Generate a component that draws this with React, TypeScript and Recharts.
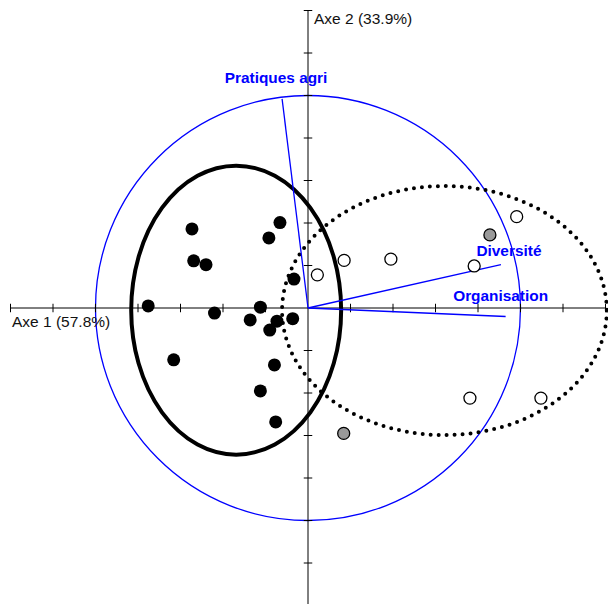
import React from 'react';
import {
  ScatterChart,
  Scatter,
  XAxis,
  YAxis,
  ReferenceLine,
  ReferenceArea,
} from 'recharts';

// Individus, groupe 1 (points noirs)
const groupe1 = [
  { x: -2.73, y: 1.86 },
  { x: -0.66, y: 2.01 },
  { x: -0.92, y: 1.65 },
  { x: -2.69, y: 1.11 },
  { x: -2.4, y: 1.02 },
  { x: -0.33, y: 0.68 },
  { x: -3.76, y: 0.05 },
  { x: -2.2, y: -0.12 },
  { x: -1.12, y: 0.02 },
  { x: -1.36, y: -0.28 },
  { x: -0.73, y: -0.31 },
  { x: -0.36, y: -0.25 },
  { x: -0.9, y: -0.52 },
  { x: -3.16, y: -1.22 },
  { x: -0.79, y: -1.34 },
  { x: -1.12, y: -1.95 },
  { x: -0.76, y: -2.68 },
];

// Individus, groupe 2 (cercles blancs)
const groupe2 = [
  { x: 0.22, y: 0.78 },
  { x: 0.85, y: 1.12 },
  { x: 1.95, y: 1.15 },
  { x: 3.91, y: 0.99 },
  { x: 4.91, y: 2.15 },
  { x: 3.81, y: -2.12 },
  { x: 5.48, y: -2.12 },
];

// Individus intermédiaires (gris)
const groupe3 = [
  { x: 4.28, y: 1.72 },
  { x: 0.84, y: -2.95 },
];

// Variables (cercle des corrélations)
const variables = [
  { name: 'Pratiques agri', x: -0.61, y: 4.92 },
  { name: 'Diversité', x: 4.54, y: 1.02 },
  { name: 'Organisation', x: 4.65, y: -0.2 },
];

// Ellipses de concentration
const ellipses = [
  { id: 'g1', cx: -1.69, cy: -0.05, rx: 2.47, ry: 3.4 },
  { id: 'g2', cx: 3.21, cy: -0.06, rx: 3.82, ry: 2.93 },
];

const rayonCercle = 5;

const graduations = [-7, -6, -5, -4, -3, -2, -1, 1, 2, 3, 4, 5, 6, 7];

const titresAxes = [
  { x: -7, y: 0, label: 'Axe 1 (57.8%)' },
  { x: 0, y: 7, label: 'Axe 2 (33.9%)' },
];

const FONT = '"Liberation Sans", Arial, Helvetica, sans-serif';
const BLUE = '#0000FF';

const labelShift: Record<string, [number, number]> = {
  'Pratiques agri': [-6, -16],
  'Diversité': [8, -9],
  'Organisation': [-5, -16],
};

const ellipseShape = (style: any) => (props: any) => {
  const { x, y, width, height } = props;
  return (
    <ellipse
      cx={x + width / 2}
      cy={y + height / 2}
      rx={Math.abs(width) / 2}
      ry={Math.abs(height) / 2}
      fill="none"
      {...style}
    />
  );
};

export default function App() {
  return (
    <div style={{ position: 'absolute', left: 0, top: 0, width: 608, height: 604, overflow: 'hidden', background: '#fff' }}>
      <ScatterChart width={616} height={616} margin={{ top: 10.5, right: 10.5, bottom: 10.5, left: 10.5 }}>
        <XAxis type="number" dataKey="x" domain={[-7, 7]} hide />
        <YAxis type="number" dataKey="y" domain={[-7, 7]} hide />

        {/* cercle des corrélations */}
        <ReferenceArea
          x1={-rayonCercle}
          x2={rayonCercle}
          y1={-rayonCercle}
          y2={rayonCercle}
          ifOverflow="visible"
          shape={ellipseShape({ stroke: BLUE, strokeWidth: 1.3 })}
        />

        {/* ellipses des groupes */}
        <ReferenceArea
          x1={ellipses[0].cx - ellipses[0].rx}
          x2={ellipses[0].cx + ellipses[0].rx}
          y1={ellipses[0].cy - ellipses[0].ry}
          y2={ellipses[0].cy + ellipses[0].ry}
          ifOverflow="visible"
          shape={ellipseShape({ stroke: '#000', strokeWidth: 4 })}
        />
        <ReferenceArea
          x1={ellipses[1].cx - ellipses[1].rx}
          x2={ellipses[1].cx + ellipses[1].rx}
          y1={ellipses[1].cy - ellipses[1].ry}
          y2={ellipses[1].cy + ellipses[1].ry}
          ifOverflow="visible"
          shape={ellipseShape({ stroke: '#000', strokeWidth: 4, strokeDasharray: '0 8', strokeLinecap: 'round' })}
        />

        {/* axes */}
        <ReferenceLine segment={[{ x: -7, y: 0 }, { x: 7, y: 0 }]} stroke="#000" strokeWidth={1} ifOverflow="visible" />
        <ReferenceLine segment={[{ x: 0, y: -7 }, { x: 0, y: 7 }]} stroke="#000" strokeWidth={1} ifOverflow="visible" />
        {graduations.map((g) => (
          <ReferenceLine
            key={`tx${g}`}
            segment={[{ x: g, y: -0.1 }, { x: g, y: 0.1 }]}
            stroke="#000"
            strokeWidth={1}
            ifOverflow="visible"
          />
        ))}
        {graduations.map((g) => (
          <ReferenceLine
            key={`ty${g}`}
            segment={[{ x: -0.1, y: g }, { x: 0.1, y: g }]}
            stroke="#000"
            strokeWidth={1}
            ifOverflow="visible"
          />
        ))}

        {/* vecteurs des variables */}
        {variables.map((v) => (
          <ReferenceLine
            key={v.name}
            segment={[{ x: 0, y: 0 }, { x: v.x, y: v.y }]}
            stroke={BLUE}
            strokeWidth={1.3}
            ifOverflow="visible"
          />
        ))}

        <Scatter
          data={groupe1}
          isAnimationActive={false}
          shape={(p: any) => <circle cx={p.cx} cy={p.cy} r={6.5} fill="#000" />}
        />
        <Scatter
          data={groupe2}
          isAnimationActive={false}
          shape={(p: any) => <circle cx={p.cx} cy={p.cy} r={6} fill="#fff" stroke="#000" strokeWidth={1.3} />}
        />
        <Scatter
          data={groupe3}
          isAnimationActive={false}
          shape={(p: any) => <circle cx={p.cx} cy={p.cy} r={6} fill="#999" stroke="#000" strokeWidth={1.3} />}
        />

        <Scatter
          data={variables}
          isAnimationActive={false}
          shape={(p: any) => {
            const [dx, dy] = labelShift[p.payload.name] || [0, -10];
            return (
              <text
                x={p.cx + dx}
                y={p.cy + dy}
                textAnchor="middle"
                fill={BLUE}
                fontFamily={FONT}
                fontWeight="bold"
                fontSize={15.4}
              >
                {p.payload.name}
              </text>
            );
          }}
        />

        <Scatter
          data={titresAxes}
          isAnimationActive={false}
          shape={(p: any) => {
            const horizontal = p.payload.y === 0;
            return (
              <text
                x={p.cx + (horizontal ? 1.5 : 6)}
                y={p.cy + (horizontal ? 19 : 13.5)}
                fill="#111"
                fontFamily={FONT}
                fontSize={15.5}
              >
                {p.payload.label}
              </text>
            );
          }}
        />
      </ScatterChart>
    </div>
  );
}
